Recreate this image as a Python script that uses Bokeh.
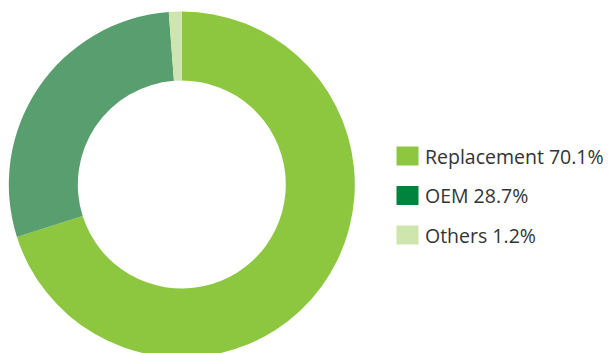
import math
from bokeh.plotting import figure
from bokeh.models import ColumnDataSource
from bokeh.core.properties import value
from bokeh.embed import file_html
from bokeh.resources import INLINE

categories = ["Replacement", "OEM", "Others"]
shares = [70.1, 28.7, 1.2]
slice_colors = ["#8dc63f", "#599e6f", "#cfe5ae"]
legend_colors = ["#8dc63f", "#00843d", "#cfe5ae"]

W, H = 611, 353
cx, cy = 181.3, H - 184.0
r_out, r_in = 173.0, 104.0

total = sum(shares)
starts, ends = [], []
acc = 0.0
for s in shares:
    starts.append(math.pi / 2 - 2 * math.pi * acc / total)
    acc += s
    ends.append(math.pi / 2 - 2 * math.pi * acc / total)

src = ColumnDataSource(dict(x=[cx] * 3, y=[cy] * 3, start=starts, end=ends,
                            color=slice_colors))

p = figure(width=W, height=H, x_range=(0, W), y_range=(0, H),
           output_backend="svg", toolbar_location=None, min_border=0)
p.axis.visible = False
p.grid.visible = False
p.outline_line_color = None
p.background_fill_color = "white"
p.border_fill_color = "white"

p.annular_wedge(x="x", y="y", inner_radius=r_in, outer_radius=r_out,
                start_angle="start", end_angle="end", direction="clock",
                fill_color="color", line_color=None, source=src)

labels = [f"{c} {v:.1f}%" for c, v in zip(categories, shares)]
ly = [H - 155.5 - i * 39.5 for i in range(len(categories))]
lsrc = ColumnDataSource(dict(x=[407.0] * 3, tx=[424.5] * 3, y=ly,
                             color=legend_colors, label=labels))
p.rect(x="x", y="y", width=22, height=19, fill_color="color",
       line_color=None, source=lsrc)
p.text(x="tx", y="y", text="label", text_font=value("Open Sans"),
       text_font_size="19.5px", text_color="#333333", text_baseline="middle",
       text_align="left", source=lsrc)

open("out.html", "w").write(file_html(p, INLINE))
